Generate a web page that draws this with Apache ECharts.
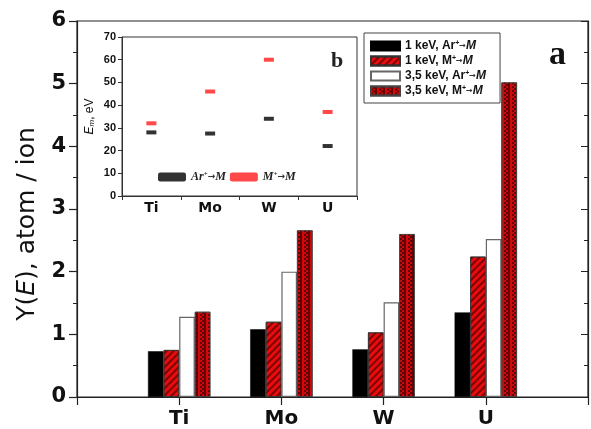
<!DOCTYPE html>
<html><head><meta charset="utf-8">
<script src="https://cdn.jsdelivr.net/npm/echarts@6/dist/echarts.min.js"></script>
<style>html,body{margin:0;padding:0;background:#fff}#c{width:591px;height:429px}</style>
</head><body><div id="c"></div>
<script>
// ---- data ----
var categories = ['Ti', 'Mo', 'W', 'U'];
var yTicks = [0, 1, 2, 3, 4, 5, 6];
var seriesNames = ['1 keV, Ar+→M', '1 keV, M+→M', '3,5 keV, Ar+→M', '3,5 keV, M+→M'];
var ar1keV = [0.73, 1.08, 0.76, 1.35];
var m1keV = [0.75, 1.20, 1.03, 2.24];
var ar35keV = [1.28, 2.00, 1.51, 2.52];
var m35keV = [1.36, 2.66, 2.60, 5.02];
var insetNames = ['Ar+→M', 'M+→M'];
var insetAr = [28, 27.5, 34, 22];
var insetM = [32, 46, 60, 37];
var insetTicks = [0, 10, 20, 30, 40, 50, 60, 70];

// ---- chart ----
var axisCats = [''].concat(categories).concat(['']);
function pad(a) { return [null].concat(a).concat([null]); }
var chart = echarts.init(document.getElementById('c'), null, {renderer: 'canvas'});
var legendRich = {
  sup: {fontSize: 7, fontWeight: 'bold', fontFamily: 'Arial', verticalAlign: 'top', padding: [0, 0, 5, 0]},
  arr: {fontSize: 8, color: '#333', fontFamily: 'DejaVu Sans'},
  it: {fontSize: 12, fontStyle: 'italic', fontWeight: 'bold', fontFamily: 'Arial'}
};
var labelMap = {
  '1 keV, Ar+→M': '1 keV, Ar{sup|+}{arr|→}{it|M}',
  '1 keV, M+→M': '1 keV, M{sup|+}{arr|→}{it|M}',
  '3,5 keV, Ar+→M': '3,5 keV, Ar{sup|+}{arr|→}{it|M}',
  '3,5 keV, M+→M': '3,5 keV, M{sup|+}{arr|→}{it|M}',
  'Ar+→M': 'Ar{sup|+}{arr|→}M',
  'M+→M': 'M{sup|+}{arr|→}M'
};
var hatch = {symbol: 'rect', symbolSize: 1, dashArrayX: [1, 0], dashArrayY: [1.5, 2.5], rotation: -Math.PI / 4, color: 'rgba(90,0,0,0.75)'};
var checker = {symbol: 'rect', symbolSize: 1, dashArrayX: [[1.5, 1.5], [0, 1.5, 1.5]], dashArrayY: [1.5, 0], rotation: 0, color: 'rgba(70,0,0,0.8)'};

var option = {
  animation: false,
  backgroundColor: '#fff',
  grid: [
    {left: 77, right: 1, top: 21, bottom: 30, show: true, borderColor: '#222', borderWidth: 1.2},
    {left: 122, top: 37, width: 235, height: 159, show: true, borderColor: '#333', borderWidth: 1}
  ],
  xAxis: [
    {type: 'category', gridIndex: 0, data: axisCats, boundaryGap: false,
     axisLine: {lineStyle: {color: '#222', width: 1.2}},
     axisTick: {show: true, length: 8, lineStyle: {color: '#222', width: 1.2}},
     axisLabel: {margin: 12, fontSize: 20, fontWeight: 'bold', color: '#111', fontFamily: 'DejaVu Sans', interval: 0}},
    {type: 'category', gridIndex: 0, position: 'top', data: axisCats, boundaryGap: false,
     axisLine: {lineStyle: {color: '#222', width: 1.2}},
     axisTick: {show: true, inside: true, length: 7, lineStyle: {color: '#222'}},
     axisLabel: {show: false}},
    {type: 'category', gridIndex: 1, data: categories,
     axisLine: {lineStyle: {color: '#333'}},
     axisTick: {show: true, length: 4, lineStyle: {color: '#333'}},
     axisLabel: {margin: 5, fontSize: 14, fontWeight: 'bold', color: '#111', fontFamily: 'DejaVu Sans'}}
  ],
  yAxis: [
    {type: 'value', gridIndex: 0, min: yTicks[0], max: yTicks[yTicks.length - 1], interval: 1,
     name: 'Y({i|E}), atom / ion', nameLocation: 'middle', nameGap: 37,
     nameTextStyle: {fontSize: 25, color: '#111', fontFamily: 'DejaVu Sans', padding: [0, 30, 0, 0],
       rich: {i: {fontSize: 25, fontStyle: 'italic', color: '#111', fontFamily: 'DejaVu Sans'}}},
     splitLine: {show: false},
     axisLine: {show: true, lineStyle: {color: '#222', width: 1.2}},
     axisTick: {show: true, length: 8, lineStyle: {color: '#222', width: 1.2}},
     minorTick: {show: true, splitNumber: 2, length: 4, lineStyle: {color: '#222'}},
     axisLabel: {margin: 11, fontSize: 21, fontWeight: 'bold', color: '#111', fontFamily: 'DejaVu Sans'}},
    {type: 'value', gridIndex: 0, position: 'right', min: 0, max: 6, interval: 1,
     splitLine: {show: false},
     axisLine: {show: true, lineStyle: {color: '#222', width: 1.2}},
     axisTick: {show: true, inside: true, length: 7, lineStyle: {color: '#222'}},
     minorTick: {show: true, splitNumber: 2, length: 4, lineStyle: {color: '#222'}},
     axisLabel: {show: false}},
    {type: 'value', gridIndex: 1, min: insetTicks[0], max: insetTicks[insetTicks.length - 1], interval: 10,
     name: '{i|E}{sub|m}, eV', nameLocation: 'middle', nameGap: 26,
     nameTextStyle: {fontSize: 12, color: '#111', fontFamily: 'Arial',
       rich: {i: {fontSize: 12, fontStyle: 'italic', fontFamily: 'Arial'}, sub: {fontSize: 8, fontStyle: 'italic', verticalAlign: 'bottom', padding: [4, 0, 0, 0]}}},
     splitLine: {show: false},
     axisLine: {show: true, lineStyle: {color: '#333'}},
     axisTick: {show: true, length: 4, lineStyle: {color: '#333'}},
     axisLabel: {margin: 6, fontSize: 11, fontWeight: 'bold', color: '#111', fontFamily: 'Arial'}}
  ],
  legend: [
    {data: seriesNames.map(function (n) { return {name: n, icon: 'rect'}; }), orient: 'vertical', left: 364, top: 33, padding: [7, 14, 6, 6], itemGap: 3,
     itemWidth: 29, itemHeight: 9, borderColor: '#444', borderWidth: 1, selectedMode: false,
     formatter: function (n) { return labelMap[n]; },
     textStyle: {fontSize: 12, fontWeight: 'bold', color: '#111', fontFamily: 'Arial', rich: legendRich}},
    {data: [{name: insetNames[0], icon: 'roundRect'}, {name: insetNames[1], icon: 'roundRect'}],
     orient: 'horizontal', left: 158, top: 171, itemGap: 4, itemWidth: 28, itemHeight: 9, padding: 0,
     selectedMode: false,
     formatter: function (n) { return labelMap[n]; },
     textStyle: {fontSize: 12, fontStyle: 'italic', fontWeight: 'bold', color: '#222', fontFamily: 'Liberation Serif',
       rich: {sup: {fontSize: 7, fontFamily: 'Liberation Serif', fontStyle: 'italic', verticalAlign: 'top', padding: [0, 0, 5, 0]},
              arr: {fontSize: 9, color: '#333', fontFamily: 'DejaVu Sans'}}}}
  ],
  series: [
    {name: seriesNames[0], type: 'bar', xAxisIndex: 0, yAxisIndex: 0, data: pad(ar1keV), barWidth: 15.6, barGap: '0%',
     itemStyle: {color: '#000', borderColor: '#000', borderWidth: 0.5}},
    {name: seriesNames[1], type: 'bar', xAxisIndex: 0, yAxisIndex: 0, data: pad(m1keV), barWidth: 15.6, barGap: '0%',
     itemStyle: {color: '#e80c0c', borderColor: '#333', borderWidth: 0.8, decal: hatch}},
    {name: seriesNames[2], type: 'bar', xAxisIndex: 0, yAxisIndex: 0, data: pad(ar35keV), barWidth: 15.6, barGap: '0%',
     itemStyle: {color: '#fff', borderColor: '#666', borderWidth: 1.2}},
    {name: seriesNames[3], type: 'bar', xAxisIndex: 0, yAxisIndex: 0, data: pad(m35keV), barWidth: 15.6, barGap: '0%',
     itemStyle: {color: '#d00a0a', borderColor: '#444', borderWidth: 0.8, decal: checker}},
    {name: insetNames[0], type: 'scatter', xAxisIndex: 2, yAxisIndex: 2, data: insetAr, symbol: 'rect', symbolSize: [10, 4],
     itemStyle: {color: '#000'}},
    {name: insetNames[1], type: 'scatter', xAxisIndex: 2, yAxisIndex: 2, data: insetM, symbol: 'rect', symbolSize: [10, 4],
     itemStyle: {color: '#ff1a1a'}}
  ],
  graphic: [
    {type: 'text', left: 549, top: 38, style: {text: 'a', fontSize: 34, fontWeight: 'bold', fontFamily: 'Liberation Serif', fill: '#111'}},
    {type: 'text', left: 331, top: 50, style: {text: 'b', fontSize: 22, fontWeight: 'bold', fontFamily: 'Liberation Serif', fill: '#222'}}
  ]
};
chart.setOption(option);
</script>
</body></html>
